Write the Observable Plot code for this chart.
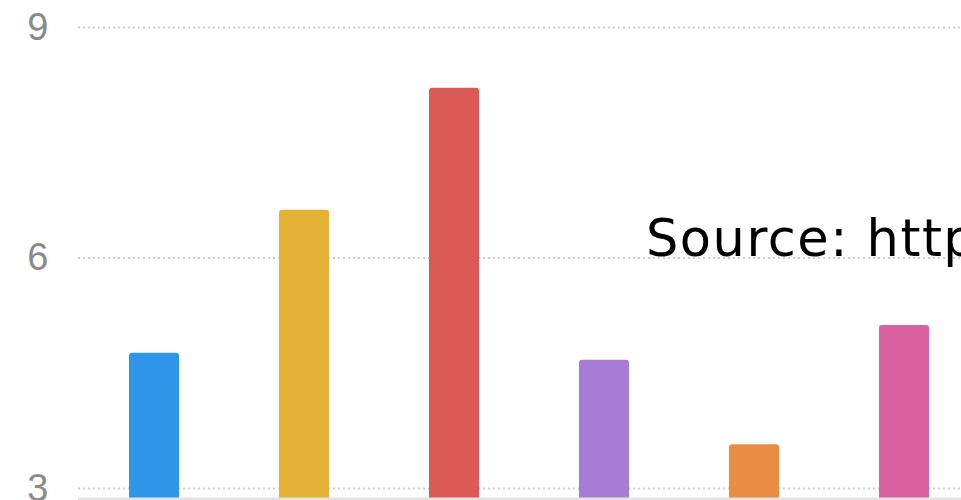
<!DOCTYPE html>
<html>
<head>
<meta charset="utf-8">
<script src="https://cdn.jsdelivr.net/npm/d3@7"></script>
<script src="https://cdn.jsdelivr.net/npm/@observablehq/plot@0.6"></script>
<style>
  html, body { margin: 0; padding: 0; background: #fff; }
  #wrap { position: relative; width: 961px; height: 500px; overflow: hidden; }
  #source { position: absolute; left: 646px; top: 213px; font-family: "DejaVu Sans", sans-serif; font-size: 51px; letter-spacing: 1.5px; color: #000; white-space: nowrap; line-height: 1; }
</style>
</head>
<body>
<div id="wrap">
  <div id="chart"></div>
  <div id="source">Source: http</div>
</div>
<script>
const categories = ["A", "B", "C", "D", "E", "F"];
const values = [4.76, 6.62, 8.21, 4.67, 3.57, 5.12];
const colors = ["#2d96e8", "#e4b234", "#db5a55", "#a77bd6", "#e88d41", "#da62a2"];
const yTicks = [3, 6, 9];

const data = values.map((v, i) => ({cat: categories[i], value: v, color: colors[i]}));

const chart = Plot.plot({
  width: 961,
  height: 500,
  marginLeft: 78,
  marginRight: 0,
  marginTop: 0,
  marginBottom: 0,
  style: {background: "#fff", overflow: "hidden"},
  x: {domain: categories, range: [79, 979], paddingInner: 0.667, paddingOuter: 0.333, axis: null},
  y: {domain: [2.844, 9.351], axis: null},
  marks: [
    Plot.gridY(yTicks, {stroke: "#cfcfcf", strokeOpacity: 1, strokeWidth: 2, strokeDasharray: "2,3"}),
    Plot.barY(data, {x: "cat", y: "value", fill: "color", rx: 3, clip: true}),
    Plot.ruleY([2.844], {stroke: "#e3e3e3", strokeWidth: 6, clip: true}),
    Plot.axisY(yTicks, {anchor: "left", tickSize: 0, tickPadding: 30, fontSize: 38, fill: "#8a8a8a", fontFamily: "Liberation Sans, Arial, sans-serif", tickFormat: d => String(d), label: null})
  ]
});
document.getElementById("chart").appendChild(chart);
</script>
</body>
</html>
